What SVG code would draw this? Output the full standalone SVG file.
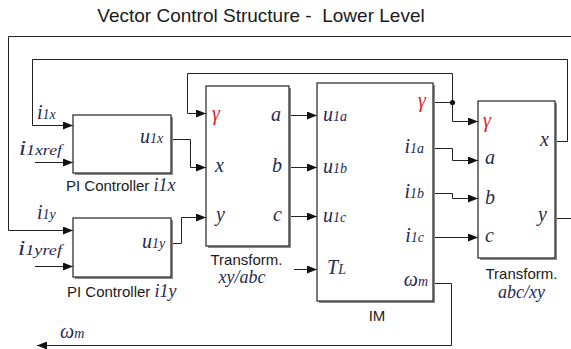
<svg xmlns="http://www.w3.org/2000/svg" width="571" height="349" viewBox="0 0 571 349">
<style>
.ln{fill:none;stroke:#222;stroke-width:1}
.ar{marker-end:url(#ah)}
.box{fill:#fff;stroke:#333;stroke-width:1.3}
.sh{fill:#8a8a8a}
.pl{font-family:"Liberation Serif","Times New Roman",serif;font-style:italic;font-size:20px;fill:#1f2a55}
.sub{font-size:14px}
.g{fill:#e3202a}
.cap{font-family:"Liberation Sans",Arial,sans-serif;font-size:15px;fill:#1a1a1a}
.it{font-family:"Liberation Serif","Times New Roman",serif;font-style:italic;font-size:18px;fill:#1f2a55}
.title{font-family:"Liberation Sans",Arial,sans-serif;font-size:19px;fill:#1a1a1a;white-space:pre}
</style>
<defs>
<marker id="ah" viewBox="0 0 10 8" refX="10" refY="4" markerWidth="10" markerHeight="8" markerUnits="userSpaceOnUse" orient="auto">
<path d="M0,0 L10,4 L0,8 z" fill="#111"/>
</marker>
</defs>
<rect width="571" height="349" fill="#fff"/>
<text class="title" x="261" y="22" text-anchor="middle" xml:space="preserve">Vector Control Structure -  Lower Level</text>

<g id="connectors">
<path class="ln ar" d="M555,218.5 H574 V36.5 H8.5 V230.5 H73"/>
<path class="ln ar" d="M555,141.5 H567.5 V59.5 H32.5 V125.5 H73"/>
<path class="ln ar" d="M35,162.5 H73"/>
<path class="ln ar" d="M35,266.5 H73"/>
<path class="ln ar" d="M171,139.5 H190.5 V167.5 H206"/>
<path class="ln ar" d="M171,243.5 H181.5 V217.5 H206"/>
<path class="ln ar" d="M452.5,102.5 V73.5 H187.5 V113.5 H206"/>
<path class="ln ar" d="M289,115.5 H317"/>
<path class="ln ar" d="M289,167.5 H317"/>
<path class="ln ar" d="M289,216.5 H317"/>
<path class="ln ar" d="M294,269.5 H317"/>
<path class="ln ar" d="M433,102.5 H452.5 V121.5 H478"/>
<path class="ln ar" d="M433,148.5 H452.5 V160.5 H478"/>
<path class="ln ar" d="M433,193.5 H452.5 V198.5 H478"/>
<path class="ln ar" d="M433,237.5 H478"/>
<path class="ln ar" d="M433,283.5 H451.5 V345.5 H37"/>
<circle cx="452.5" cy="102.5" r="2.6" fill="#111"/>
<text class="pl" x="37" y="119">i<tspan class="sub">1x</tspan></text>
<text class="pl" x="19" y="155" textLength="43" lengthAdjust="spacingAndGlyphs">i<tspan class="sub" font-size="15.5">1xref</tspan></text>
<text class="pl" x="37" y="219">i<tspan class="sub">1y</tspan></text>
<text class="pl" x="18" y="255" textLength="44" lengthAdjust="spacingAndGlyphs">i<tspan class="sub" font-size="15.5">1yref</tspan></text>
<text class="pl" x="60" y="338">ω<tspan class="sub">m</tspan></text>
</g>

<g id="pi_x">
<rect class="sh" x="75" y="117" width="98" height="58"/>
<rect class="box" x="73" y="115" width="98" height="58"/>
<text class="pl" x="140" y="143">u<tspan class="sub">1x</tspan></text>
<text class="cap" x="66" y="191">PI Controller <tspan class="it">i1x</tspan></text>
</g>

<g id="pi_y">
<rect class="sh" x="75" y="220" width="98" height="59"/>
<rect class="box" x="73" y="218" width="98" height="59"/>
<text class="pl" x="142" y="248">u<tspan class="sub">1y</tspan></text>
<text class="cap" x="67" y="297">PI Controller <tspan class="it">i1y</tspan></text>
</g>

<g id="transform_xy_abc">
<rect class="sh" x="208" y="88" width="83" height="160"/>
<rect class="box" x="206" y="86" width="83" height="160"/>
<text class="pl g" x="212" y="120">γ</text>
<text class="pl" x="215" y="172">x</text>
<text class="pl" x="216" y="221">y</text>
<text class="pl" x="271" y="121">a</text>
<text class="pl" x="272" y="172">b</text>
<text class="pl" x="273" y="221">c</text>
<text class="cap" x="246.5" y="265" text-anchor="middle">Transform.</text>
<text class="it" x="242" y="283" text-anchor="middle">xy/abc</text>
</g>

<g id="im">
<rect class="sh" x="319" y="85" width="116" height="218"/>
<rect class="box" x="317" y="83" width="116" height="218"/>
<text class="pl" x="323" y="121">u<tspan class="sub">1a</tspan></text>
<text class="pl" x="323" y="173">u<tspan class="sub">1b</tspan></text>
<text class="pl" x="323" y="222">u<tspan class="sub">1c</tspan></text>
<text class="pl" x="327" y="274">T<tspan class="sub">L</tspan></text>
<text class="pl g" x="426" y="107" text-anchor="end">γ</text>
<text class="pl" x="424" y="153" text-anchor="end">i<tspan class="sub">1a</tspan></text>
<text class="pl" x="424" y="198" text-anchor="end">i<tspan class="sub">1b</tspan></text>
<text class="pl" x="424" y="242" text-anchor="end">i<tspan class="sub">1c</tspan></text>
<text class="pl" x="428" y="286" text-anchor="end">ω<tspan class="sub">m</tspan></text>
<text class="cap" x="377" y="321" text-anchor="middle">IM</text>
</g>

<g id="transform_abc_xy">
<rect class="sh" x="480" y="103" width="77" height="157"/>
<rect class="box" x="478" y="101" width="77" height="157"/>
<text class="pl g" x="483" y="127">γ</text>
<text class="pl" x="485" y="164">a</text>
<text class="pl" x="485" y="204">b</text>
<text class="pl" x="485" y="242">c</text>
<text class="pl" x="540" y="146">x</text>
<text class="pl" x="538" y="221">y</text>
<text class="cap" x="521.5" y="279" text-anchor="middle">Transform.</text>
<text class="it" x="521.5" y="298" text-anchor="middle">abc/xy</text>
</g>
</svg>
